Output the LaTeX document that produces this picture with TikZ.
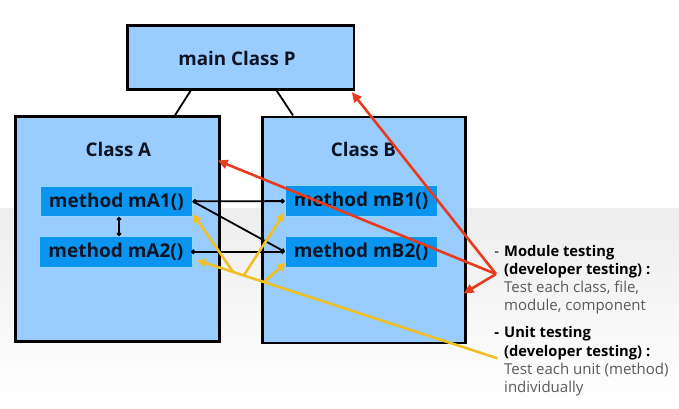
\documentclass[tikz,border=0pt]{standalone}
\usepackage{fontspec}
\setmainfont{Open Sans}
\usetikzlibrary{arrows.meta,calc}
\definecolor{classfill}{RGB}{153,204,255}
\definecolor{methfill}{RGB}{10,150,240}
\definecolor{methline}{RGB}{150,215,255}
\definecolor{redarr}{RGB}{232,58,28}
\definecolor{yelarr}{RGB}{240,192,36}
\definecolor{txtgray}{RGB}{90,90,90}
\definecolor{txtdark}{RGB}{15,20,35}
\begin{document}
\begin{tikzpicture}[x=1pt,y=-1pt,
  classbox/.style={draw=black,line width=2.6pt,fill=classfill,inner sep=0pt,anchor=north west},
  methbox/.style={draw=methline,line width=0.8pt,fill=methfill,inner sep=0pt,
    minimum width=152pt,minimum height=30.5pt,text=txtdark,
    font=\fontsize{19pt}{21pt}\selectfont\bfseries},
  titletext/.style={inner sep=0pt,text=txtdark,font=\fontsize{18.8pt}{21pt}\selectfont\bfseries},
  blackconn/.style={line width=1.8pt,{Circle[length=4.4pt]}-{Circle[length=4.4pt]}},
  plainconn/.style={line width=1.8pt},
  redconn/.style={draw=redarr,line width=2.6pt,-{Triangle[length=10pt,width=9pt]}},
  yelconn/.style={draw=yelarr,line width=2.6pt,-{Triangle[length=9pt,width=8pt]}},
  rtb/.style={anchor=base west,inner sep=0pt,text=black,font=\fontsize{14.7pt}{18pt}\selectfont\bfseries},
  rtn/.style={anchor=base west,inner sep=0pt,text=txtgray,font=\fontsize{15pt}{18pt}\selectfont},
]
\useasboundingbox (0,0) rectangle (679,408);
% background
\fill[white] (0,0) rectangle (679,208);
\shade[top color=gray!14,bottom color=white] (0,208) rectangle (679,408);

% boxes
\node[classbox,minimum width=226.7pt,minimum height=64pt] (P) at (126,24) {};
\node[titletext] (Ptext) at (237,58) {main Class P};
\node[classbox,minimum width=204pt,minimum height=225pt] (A) at (14,115) {};
\node[titletext] (Atext) at (118.4,149) {Class A};
\node[classbox,minimum width=203pt,minimum height=226pt] (B) at (261,115.5) {};
\node[titletext] (Btext) at (363.5,149) {Class B};

\node[methbox] (mA1) at (116.3,201.3) {method mA1()};
\node[methbox,minimum width=153.5pt] (mA2) at (115.9,251.7) {method mA2()};
\node[methbox] (mB1) at (361,201.1) {method mB1()};
\node[methbox] (mB2) at (361,251.7) {method mB2()};

% hierarchy connectors
\draw[plainconn] ($(P.south west)!0.282!(P.south east)$) -- ($(A.north west)!0.78!(A.north east)$);
\draw[plainconn] ($(P.south west)!0.657!(P.south east)$) -- ($(B.north west)!0.156!(B.north east)$);

% method connectors
\draw[blackconn] (mA1.east) -- (mB1.west);
\draw[plainconn,-{Circle[length=4.4pt]}] (mA1.east) -- (mB2.west);
\draw[blackconn] ([xshift=-2pt]mA2.east) -- (mB2.west);
\draw[blackconn] ([xshift=2.7pt]mA1.south) -- ([xshift=3.1pt]mA2.north);

% unit testing (yellow)
\coordinate (ysrc) at (497.5,358.3);
\coordinate (yA2) at ($(mA2.south east)+(3.8,-7.2)$);
\coordinate (yA1) at ($(mA1.south east)+(0,-3.4)$);
\coordinate (yB1) at ($(mB1.south west)+(0,-4.5)$);
\coordinate (yB2) at ($(mB2.south west)+(1.5,-5)$);
\coordinate (yb1) at ($(ysrc)!0.879!(yA2)$);
\coordinate (yb2) at ($(ysrc)!0.844!(yA2)$);
\coordinate (yb3) at ($(ysrc)!0.777!(yA2)$);
\draw[yelconn] (ysrc) -- (yA2);
\draw[yelconn] (yb1) -- (yA1);
\draw[yelconn] (yb2) -- (yB1);
\draw[yelconn] (yb3) -- (yB2);

% module testing (red)
\coordinate (rsrc) at (496,274);
\draw[redconn] (rsrc) -- ($(P.south east)+(-3.5,1.5)$);
\draw[redconn] (rsrc) -- ($(A.north east)+(-3,45.5)$);
\draw[redconn] (rsrc) -- ($(B.north east)+(-3,178)$);

% text
\node[rtb] (t1) at (504,256) {\llap{\mdseries -\hspace{5pt}}Module testing};
\node[rtb] (t2) at (504,274.3) {(developer testing) :};
\node[rtn] (t3) at (504,292.3) {Test each class, file,};
\node[rtn] (t4) at (504,310.7) {module, component};
\node[rtb] (t5) at (504,337.3) {\llap{-\hspace{5pt}}Unit testing};
\node[rtb] (t6) at (504,356.7) {(developer testing) :};
\node[rtn] (t7) at (504,374.3) {Test each unit (method)};
\node[rtn] (t8) at (504,392) {individually};
\end{tikzpicture}
\end{document}
